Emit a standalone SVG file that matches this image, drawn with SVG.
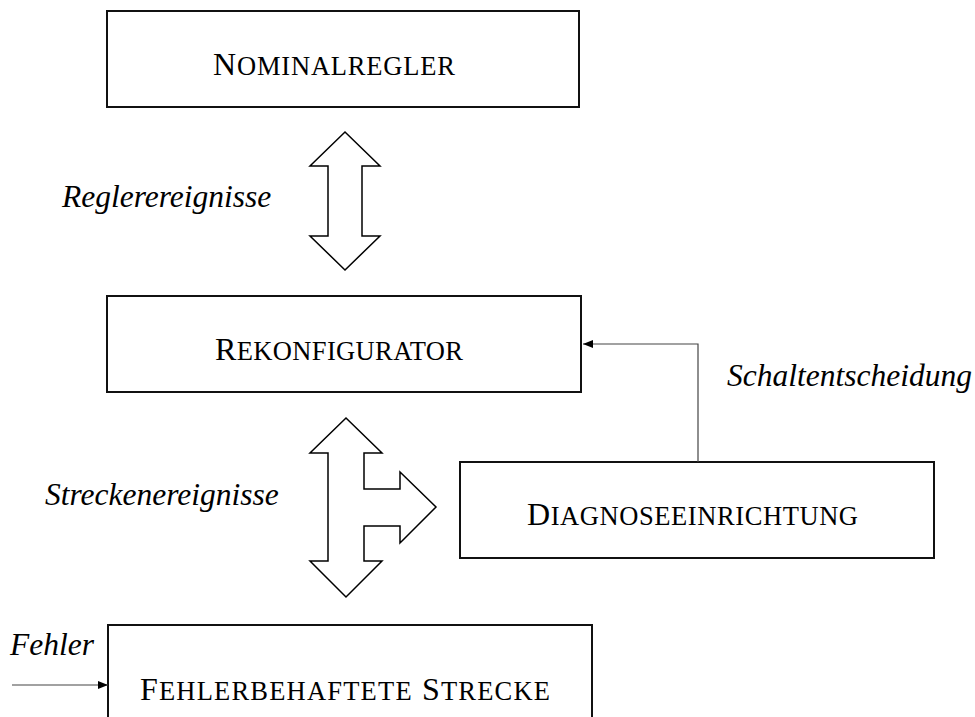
<svg xmlns="http://www.w3.org/2000/svg" width="975" height="717" viewBox="0 0 975 717">
  <style>
    .box { fill: #ffffff; stroke: #111111; stroke-width: 2; }
    .sc { font-family: "Liberation Serif", "Times New Roman", serif; font-size: 32px; fill: #000000; }
    .sc .s { font-size: 26.5px; }
    .lbl { font-family: "Liberation Serif", "Times New Roman", serif; font-size: 31.5px; font-style: italic; fill: #000000; }
    .fat { fill: #ffffff; stroke: #000000; stroke-width: 1.5; stroke-linejoin: miter; }
    .wire { fill: none; stroke: #444444; stroke-width: 1.2; }
  </style>
  <defs>
    <marker id="tip" viewBox="0 0 10 10" refX="10" refY="5" markerWidth="10" markerHeight="10" markerUnits="userSpaceOnUse" orient="auto">
      <path d="M0,1 L10,5 L0,9 Z" fill="#000000"/>
    </marker>
  </defs>

  <rect width="975" height="717" fill="#ffffff"/>

  <g id="nominalregler">
    <rect class="box" x="107" y="11" width="472" height="96"/>
    <text class="sc" x="213" y="75" textLength="242" lengthAdjust="spacing">N<tspan class="s">OMINALREGLER</tspan></text>
  </g>

  <g id="rekonfigurator">
    <rect class="box" x="107" y="296" width="474" height="96"/>
    <text class="sc" x="215" y="360" textLength="248" lengthAdjust="spacing">R<tspan class="s">EKONFIGURATOR</tspan></text>
  </g>

  <g id="diagnoseeinrichtung">
    <rect class="box" x="460" y="462" width="474" height="96"/>
    <text class="sc" x="527" y="525" textLength="331" lengthAdjust="spacing">D<tspan class="s">IAGNOSEEINRICHTUNG</tspan></text>
  </g>

  <g id="strecke">
    <rect class="box" x="108" y="625" width="484" height="110"/>
    <text class="sc" x="140" y="700" textLength="410" lengthAdjust="spacing">F<tspan class="s">EHLERBEHAFTETE</tspan> S<tspan class="s">TRECKE</tspan></text>
  </g>

  <g id="connectors">
    <!-- two-way block arrow between controller and reconfigurator -->
    <path class="fat" d="M345,132 L380,166 L362,166 L362,236 L380,236 L345,270 L310,236 L328,236 L328,166 L310,166 Z"/>
    <!-- three-way block arrow: reconfigurator, plant, diagnosis -->
    <path class="fat" d="M346,418 L382,453 L364,453 L364,489 L400,489 L400,472 L436,507 L400,543 L400,526 L364,526 L364,561 L382,561 L346,597 L310,561 L328,561 L328,453 L310,453 Z"/>
    <!-- switching decision feedback -->
    <path class="wire" d="M698,462 L698,344 L583,344" marker-end="url(#tip)"/>
    <!-- fault input -->
    <path class="wire" d="M12,685 L108,685" marker-end="url(#tip)"/>
  </g>

  <g id="labels">
    <text class="lbl" x="62" y="207">Reglerereignisse</text>
    <text class="lbl" x="45" y="505">Streckenereignisse</text>
    <text class="lbl" x="727" y="386">Schaltentscheidung</text>
    <text class="lbl" x="10" y="655">Fehler</text>
  </g>
</svg>
